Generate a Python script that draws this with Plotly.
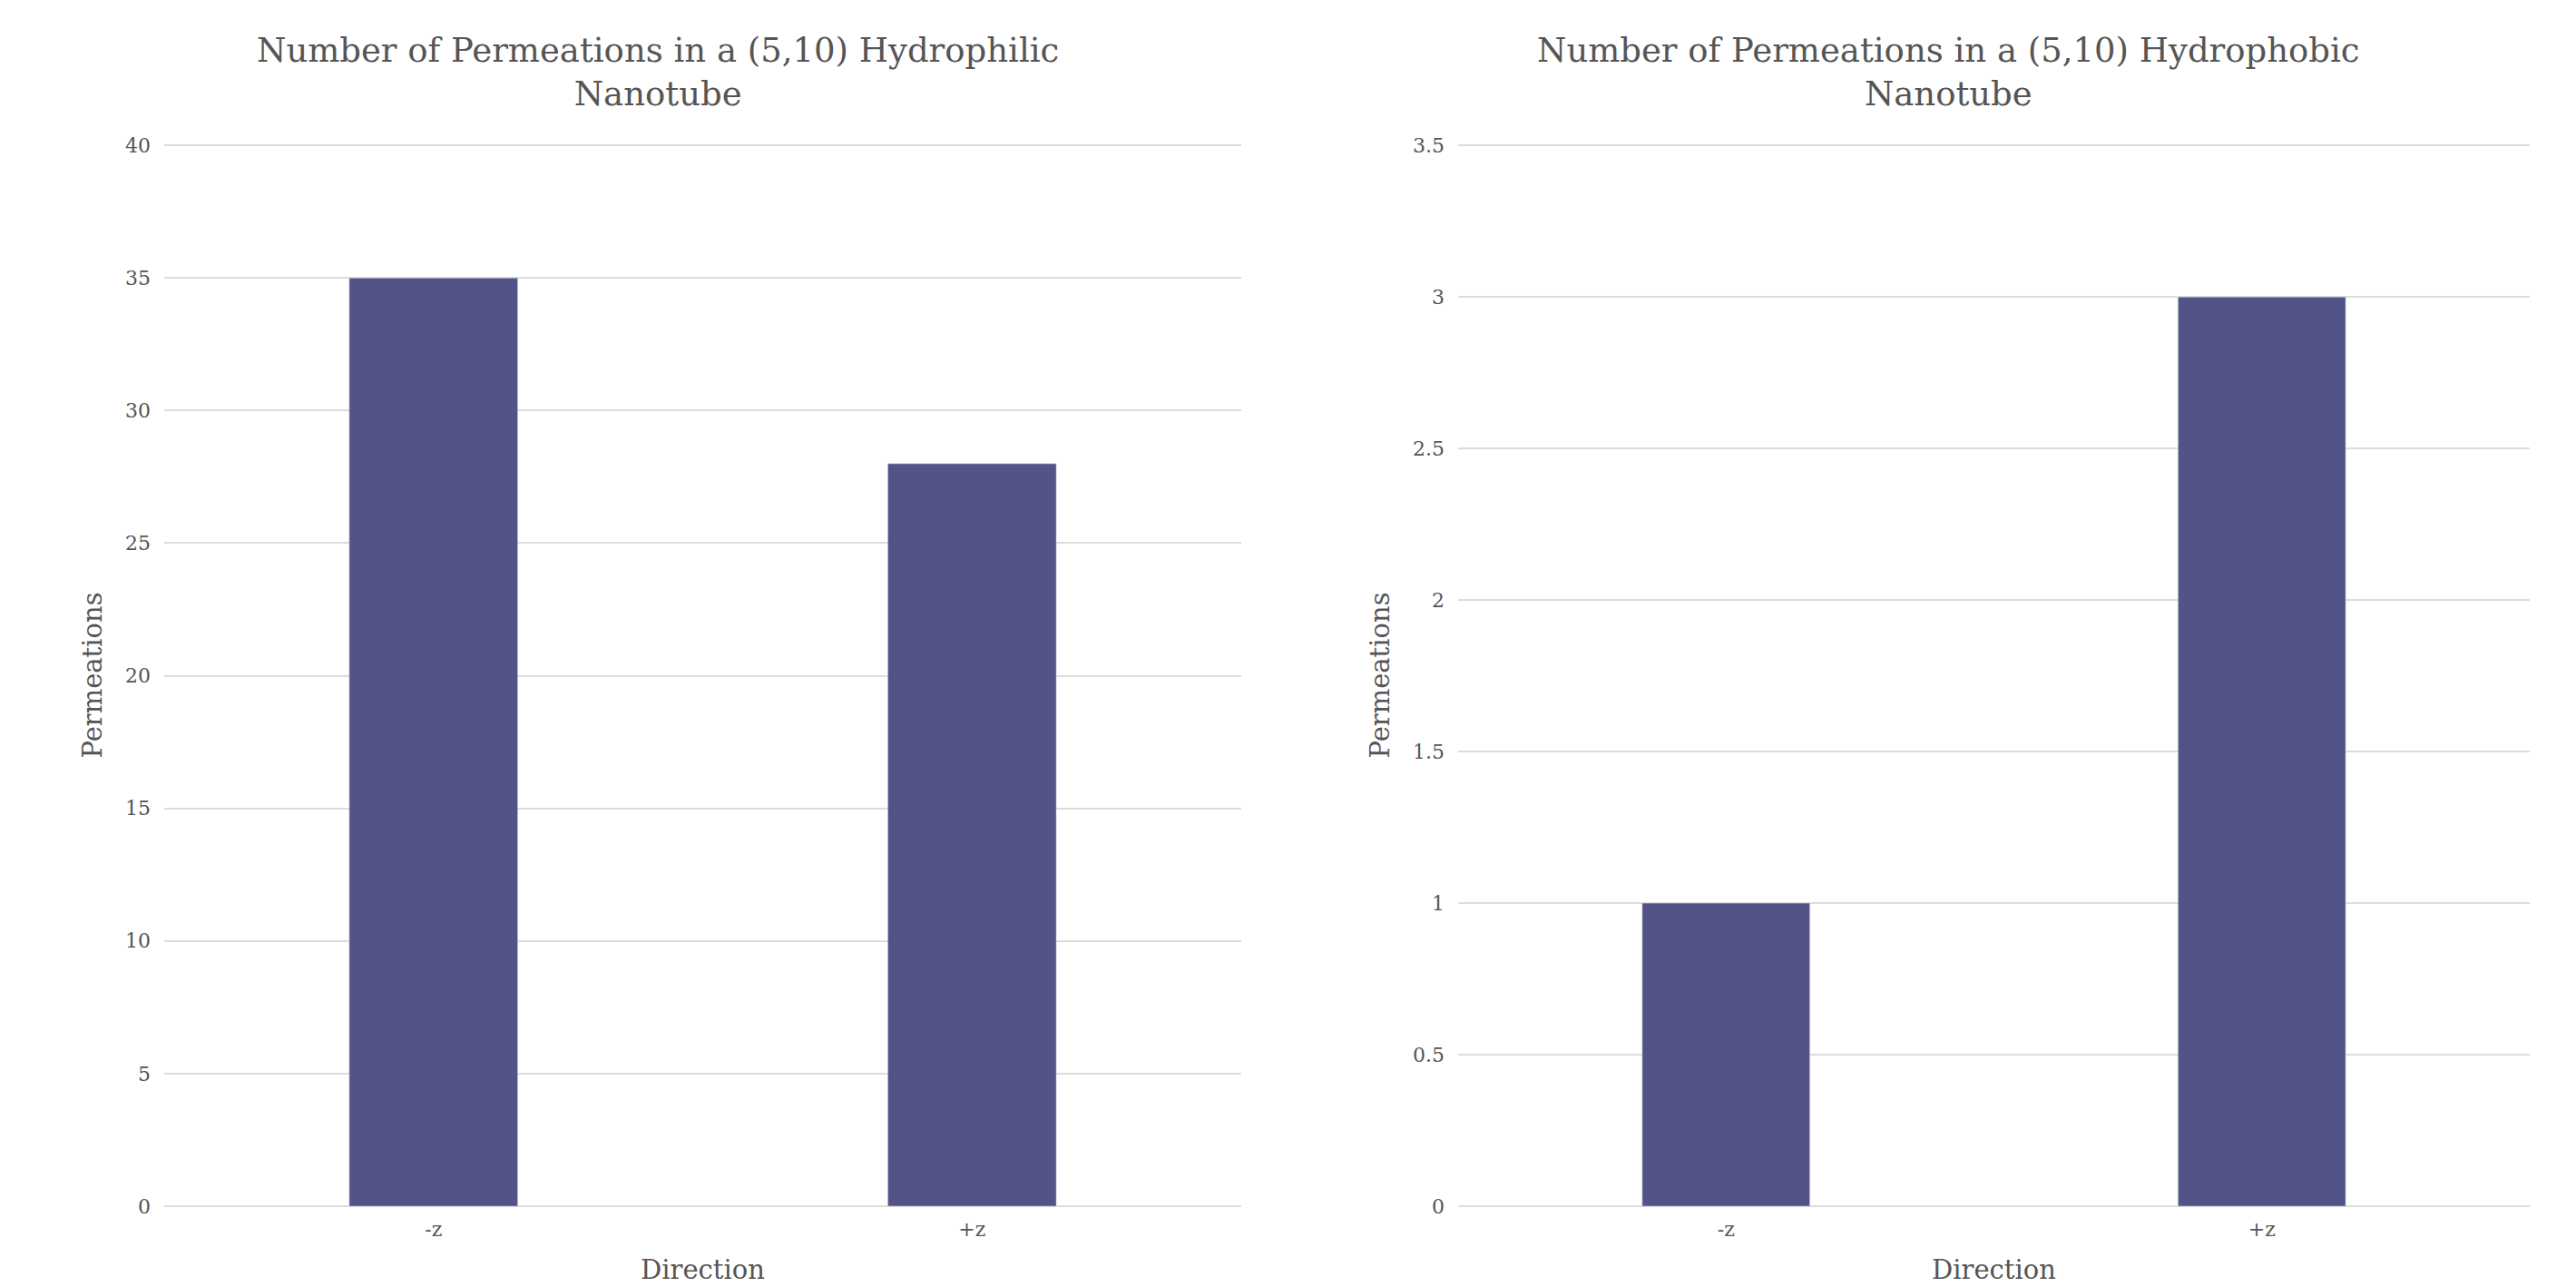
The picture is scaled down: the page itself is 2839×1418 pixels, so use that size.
import plotly.graph_objects as go
from plotly.subplots import make_subplots

directions = ["-z", "+z"]
hydrophilic = [35, 28]
hydrophobic = [1, 3]
titles = ["Number of Permeations in a (5,10) Hydrophilic<br>Nanotube",
          "Number of Permeations in a (5,10) Hydrophobic<br>Nanotube"]
y_ticks_left = [0, 5, 10, 15, 20, 25, 30, 35, 40]
y_ticks_right = [0, 0.5, 1, 1.5, 2, 2.5, 3, 3.5]

W, H = 2839, 1418
OFF = 8  # page body margin
L, R, T, B = 181 - OFF, 51 + OFF, 159 - OFF, 89 + OFF
pw = W - L - R
ph = H - T - B

FONT = "Georgia, 'DejaVu Serif', serif"
TXT = "#555555"
BAR = "#525488"
GRID = "#dcdcdc"

fig = make_subplots(rows=1, cols=2)
fig.add_trace(go.Bar(x=directions, y=hydrophilic, marker_color=BAR, showlegend=False), 1, 1)
fig.add_trace(go.Bar(x=directions, y=hydrophobic, marker_color=BAR, showlegend=False), 1, 2)

d1 = [0, (1368 - 181) / pw]
d2 = [(1607 - 181) / pw, 1]

axis_common = dict(tickfont=dict(family=FONT, size=22, color=TXT), showline=False)
fig.update_xaxes(**axis_common, showgrid=False, zeroline=False, ticks="", ticklabelstandoff=10,
                 title_text="Direction",
                 title_font=dict(family=FONT, size=29, color=TXT), title_standoff=22)
fig.update_yaxes(**axis_common, showgrid=True, gridcolor=GRID, gridwidth=2, ticks="",
                 zeroline=True, zerolinecolor=GRID, zerolinewidth=2, ticklabelstandoff=14,
                 title_text="Permeations", title_font=dict(family=FONT, size=29, color=TXT),
                 title_standoff=16)
fig.update_xaxes(domain=d1, row=1, col=1)
fig.update_xaxes(domain=d2, row=1, col=2)
fig.update_yaxes(range=[0, 40.04], tickvals=y_ticks_left, row=1, col=1)
fig.update_yaxes(range=[0, 3.5035], tickvals=y_ticks_right, row=1, col=2)

# titles centred on each half of the page (page pixel coords)
cx = [725, 2147]
cy = 79
for t, c in zip(titles, cx):
    fig.add_annotation(text=t, xref="paper", yref="paper",
                       x=(c - OFF - L) / pw, y=1 + (T - (cy - OFF)) / ph,
                       xanchor="center", yanchor="middle", showarrow=False,
                       font=dict(family=FONT, size=37, color=TXT))

fig.update_layout(width=W, height=H, margin=dict(l=L, r=R, t=T, b=B),
                  plot_bgcolor="white", paper_bgcolor="white", bargap=0.687,
                  font=dict(family=FONT, color=TXT))
fig.write_html("out.html")
